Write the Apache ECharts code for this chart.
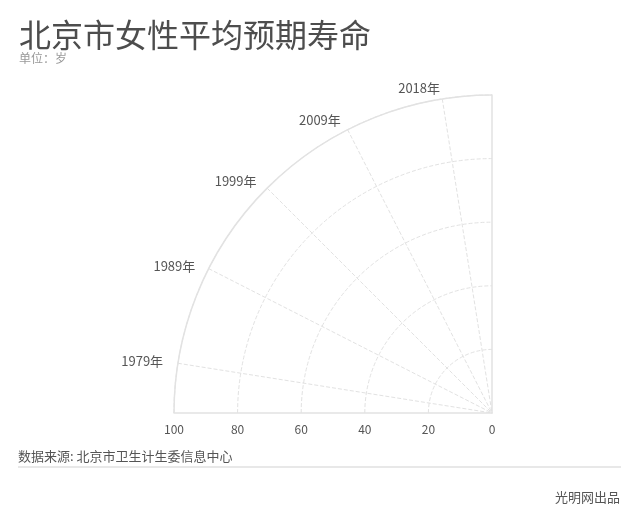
<!DOCTYPE html>
<html>
<head>
<meta charset="utf-8">
<script src="https://cdn.jsdelivr.net/npm/echarts@6/dist/echarts.min.js"></script>
<style>
  html, body { margin: 0; padding: 0; background: #fff; }
  #chart { width: 639px; height: 526px; }
</style>
</head>
<body>
<div id="chart"></div>
<script>
(function (window, echarts) {
    'use strict';

    const years = ['1979', '1989', '1999', '2009', '2018'];
    const radiusTicks = [0, 20, 40, 60, 80, 100];

    const font = '"Noto Sans CJK SC", "Noto Sans", sans-serif';
    const gridColor = '#e2e2e2';

    // echarts picks label alignment by quadrant; nudge each label so all
    // of them sit right-aligned and vertically centred like the original
    const labelPadding = [
        [0, 0, -12, 0],
        [0, 0, -10.5, 0],
        [0, 0, -10.5, 0],
        [0, 0, -10.5, 0],
        [0, 41.6, -10.5, 0]
    ];

    const chart = echarts.init(document.getElementById('chart'));

    const options = {
        backgroundColor: '#fff',
        textStyle: {fontFamily: font},
        title: [
            {
                text: '北京市女性平均预期寿命',
                subtext: '单位：岁',
                left: 14,
                top: 14,
                itemGap: 1,
                textStyle: {fontSize: 32, fontWeight: 'normal', color: '#4d4d4d', fontFamily: font},
                subtextStyle: {fontSize: 12, color: '#999', fontFamily: font}
            },
            {
                text: '数据来源: 北京市卫生计生委信息中心',
                left: 13,
                top: 445,
                textStyle: {fontSize: 13, fontWeight: 'normal', color: '#555', fontFamily: font}
            },
            {
                text: '光明网出品',
                right: 14,
                top: 486,
                textStyle: {fontSize: 13, fontWeight: 'normal', color: '#555', fontFamily: font}
            }
        ],
        graphic: [
            {
                type: 'line',
                shape: {x1: 18, y1: 467, x2: 621, y2: 467},
                style: {stroke: '#e0e0e0', lineWidth: 1.5}
            }
        ],
        polar: [
            {center: [492, 413], radius: [0, 318]},
            {center: [492, 413], radius: [0, 318]}
        ],
        angleAxis: [
            {
                polarIndex: 0,
                type: 'category',
                data: years.map((y, i) => ({
                    value: y + '年',
                    textStyle: {padding: labelPadding[i]}
                })),
                startAngle: 180,
                endAngle: 90,
                clockwise: true,
                boundaryGap: true,
                axisLine: {lineStyle: {color: gridColor, width: 1.5}},
                axisTick: {show: false, alignWithLabel: true},
                axisLabel: {color: '#555', fontSize: 13, margin: 15},
                splitLine: {show: true, lineStyle: {color: gridColor, type: 'dashed'}}
            },
            {
                // only used to place the vertical edge line
                polarIndex: 1,
                type: 'value',
                startAngle: 90,
                show: false
            }
        ],
        radiusAxis: [
            {
                polarIndex: 0,
                type: 'value',
                min: radiusTicks[0],
                max: radiusTicks[radiusTicks.length - 1],
                interval: radiusTicks[1] - radiusTicks[0],
                axisLine: {lineStyle: {color: gridColor, width: 1.5}},
                axisTick: {show: false},
                axisLabel: {color: '#555', fontSize: 12, margin: 10},
                splitLine: {show: true, lineStyle: {color: gridColor, type: 'dashed'}}
            },
            {
                polarIndex: 1,
                type: 'value',
                min: 0,
                max: 100,
                axisLine: {lineStyle: {color: gridColor, width: 1.5}},
                axisTick: {show: false},
                axisLabel: {show: false},
                splitLine: {show: false}
            }
        ],
        series: []
    };

    chart.setOption(options);
})(window, echarts);
</script>
</body>
</html>
